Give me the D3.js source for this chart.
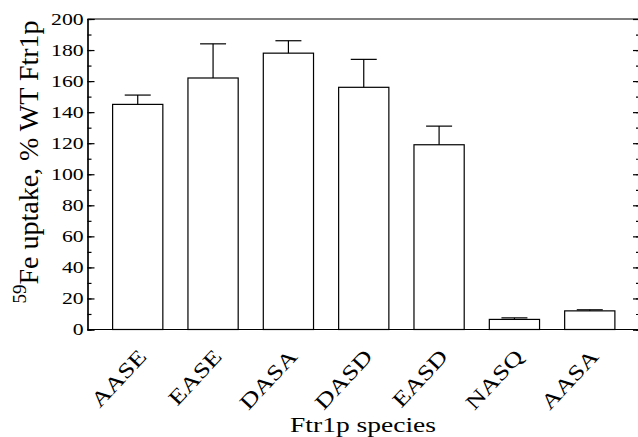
<!DOCTYPE html>
<html>
<head>
<meta charset="utf-8">
<script src="https://cdn.jsdelivr.net/npm/d3@7"></script>
<style>
  body { margin: 0; background: #fff; }
  svg text { font-family: "Liberation Serif", "Times New Roman", serif !important; fill: #000; }
</style>
</head>
<body>
<div id="chart"></div>
<script>
// data
const species = ["AASE", "EASE", "DASA", "DASD", "EASD", "NASQ", "AASA"]
const uptake = [145, 162, 178, 156, 119, 6.5, 12]
const errUp = [6, 22, 8, 18, 12, 1, 0.7]
const yTicks = [0, 20, 40, 60, 80, 100, 120, 140, 160, 180, 200]

const width = 638, height = 437
const margin = {left: 87.5, right: 640, top: 19, bottom: 329.5}
const serif = "Liberation Serif, Times New Roman, serif"
const stretch = 1.28  // text in the figure is drawn wide

const data = species.map((s, i) => ({name: s, value: uptake[i], err: errUp[i]}))

const xScale = d3.scaleBand()
  .domain(species)
  .range([margin.left, margin.right])
  .padding(1/3)

const yScale = d3.scaleLinear()
  .domain([0, 200])
  .range([margin.bottom, margin.top])

const svg = d3.select("#chart")
  .append("svg")
  .attr("width", width)
  .attr("height", height)
  .attr("font-family", serif)

// minor ticks, both sides
svg.append("g")
  .attr("transform", `translate(${margin.left},0)`)
  .call(d3.axisLeft(yScale).ticks(20).tickSize(-4).tickFormat(""))
svg.append("g")
  .attr("transform", `translate(${margin.right},0)`)
  .call(d3.axisRight(yScale).ticks(20).tickSize(-4).tickFormat(""))

// major ticks + labels
const yAxis = svg.append("g")
  .attr("class", "yAxis")
  .attr("transform", `translate(${margin.left},0)`)
  .call(d3.axisLeft(yScale).tickValues(yTicks).tickSize(-7).tickPadding(3))
yAxis.attr("font-family", serif)
yAxis.selectAll("text")
  .attr("font-family", serif)
  .attr("font-size", 17)
  .attr("transform", `scale(${stretch},1)`)

svg.append("g")
  .attr("transform", `translate(${margin.right},0)`)
  .call(d3.axisRight(yScale).tickValues(yTicks).tickSize(-7).tickFormat(""))

svg.selectAll(".domain, .tick line")
  .attr("stroke", "#000")
  .attr("stroke-width", 1.2)

// top frame
svg.append("line")
  .attr("x1", margin.left).attr("x2", margin.right)
  .attr("y1", margin.top).attr("y2", margin.top)
  .attr("stroke", "#000").attr("stroke-width", 1.2)

// BARS
svg.selectAll("rect.bar")
  .data(data)
  .join("rect")
    .attr("class", "bar")
    .attr("x", d => xScale(d.name))
    .attr("y", d => yScale(d.value))
    .attr("width", xScale.bandwidth())
    .attr("height", d => yScale(0) - yScale(d.value))
    .attr("fill", "#fff")
    .attr("stroke", "#000")
    .attr("stroke-width", 1.2)

// error bars (upper only)
const capHalf = 13
const errG = svg.selectAll("g.err")
  .data(data)
  .join("g")
    .attr("class", "err")
    .attr("transform", d => `translate(${xScale(d.name) + xScale.bandwidth() / 2},0)`)
errG.append("line")
  .attr("y1", d => yScale(d.value))
  .attr("y2", d => yScale(d.value + d.err))
  .attr("stroke", "#000").attr("stroke-width", 1.2)
errG.append("line")
  .attr("x1", -capHalf).attr("x2", capHalf)
  .attr("y1", d => yScale(d.value + d.err))
  .attr("y2", d => yScale(d.value + d.err))
  .attr("stroke", "#000").attr("stroke-width", 1.2)

// x axis on top of bar bottoms
const xAxis = svg.append("g")
  .attr("transform", `translate(0,${margin.bottom})`)
  .call(d3.axisBottom(xScale).tickSize(0))
xAxis.attr("font-family", serif)
xAxis.select(".domain")
  .attr("d", `M${margin.left},0H${margin.right}`)
  .attr("stroke", "#000").attr("stroke-width", 1.2)
xAxis.selectAll("text")
  .attr("x", 0).attr("y", 0).attr("dy", 0)
  .attr("font-family", serif)
  .attr("font-size", 21)
  .attr("text-anchor", "end")
  .attr("transform", `translate(10,28) rotate(-47) scale(${stretch},1)`)

// axis titles
svg.append("text")
  .attr("font-family", serif)
  .attr("text-anchor", "middle")
  .attr("font-size", 21)
  .attr("transform", `translate(363,432) scale(1.31,1)`)
  .text("Ftr1p species")

const yLabel = svg.append("text")
  .attr("font-family", serif)
  .attr("text-anchor", "middle")
  .attr("font-size", 28)
  .attr("transform", "translate(37.5,162) rotate(-90)")
yLabel.append("tspan").attr("font-size", 19).attr("dy", -12).text("59")
yLabel.append("tspan").attr("dy", 12).text("Fe uptake, % WT Ftr1p")
</script>
</body>
</html>
